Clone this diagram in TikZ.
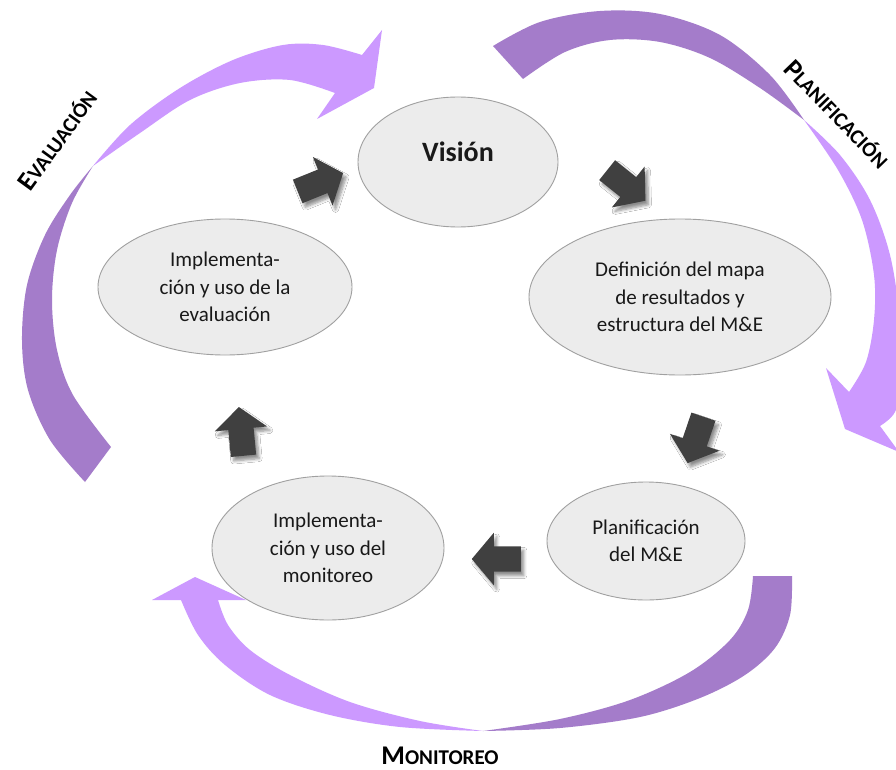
\documentclass[tikz,border=0pt]{standalone}
\usepackage{fontspec}
\setmainfont{Carlito}
\usetikzlibrary{shapes.geometric,shapes.arrows,shadows.blur}
\definecolor{pdark}{RGB}{164,124,202}
\definecolor{plight}{RGB}{204,153,255}
\definecolor{darrow}{RGB}{64,64,64}
\definecolor{efill}{RGB}{236,236,236}
\definecolor{eline}{RGB}{160,160,160}
\newcommand{\phasetxt}[2]{{\fontsize{27}{27}\selectfont #1}{\fontsize{21}{21}\selectfont #2}}
\tikzset{
  stage/.style={ellipse, draw=eline, line width=0.9pt, fill=efill, inner sep=0pt,
    align=center, text=black!90, font=\fontsize{21}{27.5}\selectfont},
  blockarr/.style={single arrow, fill=darrow, draw=none, minimum height=49pt,
    inner xsep=0pt, inner ysep=12.5pt, single arrow head extend=13.5pt,
    single arrow tip angle=100, anchor=tail,
    blur shadow={shadow xshift=3pt, shadow yshift=-4pt, shadow opacity=45,
      shadow blur steps=6, shadow blur radius=3pt}},
  phase/.style={font=\bfseries, inner sep=0pt, text=black},
  band/.style={smooth, tension=0.55}
}
\begin{document}
\begin{tikzpicture}[x=1pt, y=-1pt]
\useasboundingbox (0,0) rectangle (896,770);
\clip (0,0) rectangle (896,770);
\fill[white] (0,0) rectangle (896,770);

% EVALUACION curved arrow
\fill[pdark] plot[band] coordinates {(85,482) (50,440) (28,390) (22,340) (27,285) (45,235) (70,195) (93,166)}
  -- plot[band] coordinates {(93,166) (72,203) (57,250) (52,300) (57,350) (73,395) (111,447)} -- cycle;
\fill[plight] plot[band] coordinates {(93,166) (130,125) (180,88) (233,60) (283,45) (323,45) (362,55)}
  -- (382,30) -- (374,88) -- (317,119)
  -- plot[band] coordinates {(335,93) (290,80) (240,83) (190,100) (140,133) (93,166)} -- cycle;

% PLANIFICACION curved arrow
\fill[pdark] plot[band] coordinates {(493,46) (540,22) (600,11) (660,14) (720,35) (770,75) (804,120)}
  -- plot[band] coordinates {(804,120) (760,88) (710,58) (660,42) (610,40) (565,52) (523,79)} -- cycle;
\fill[plight] plot[band] coordinates {(804,120) (840,155) (870,200) (890,255) (900,320) (902,380) (895,412) (880,426)}
  -- (899,452) -- (845,429) -- (826,368)
  -- plot[band] coordinates {(849,392) (866,362) (874,320) (874,275) (862,220) (838,170) (804,120)} -- cycle;

% MONITOREO curved arrow
\fill[pdark] plot[band] coordinates {(792,576) (790,615) (775,648) (745,675) (700,698) (640,717) (560,728) (483,731)}
  -- plot[band] coordinates {(483,731) (560,719) (630,700) (690,672) (730,640) (748,610) (753,576)} -- cycle;
\fill[plight] plot[band] coordinates {(483,731) (400,727) (330,715) (270,695) (225,665) (198,635) (181,600)}
  -- (152,600) -- (195,577) -- (246,600)
  -- plot[band] coordinates {(218,600) (228,625) (250,650) (290,675) (350,702) (420,721) (483,731)} -- cycle;

% phase labels
\node[phase, rotate=54] (evallbl) at (57,140) {\phasetxt{E}{VALUACIÓN}};
\node[phase, rotate=-46] (planlbl) at (837,114) {\phasetxt{P}{LANIFICACIÓN}};
\node[phase] (monilbl) at (440,756) {\phasetxt{M}{ONITOREO}};

% stages
\node[stage, minimum width=200pt, minimum height=130pt] (vision) at (458,162) {};
\node[font=\bfseries\fontsize{28}{32}\selectfont, text=black!90] (visionlbl) at (458,152) {Visión};
\node[stage, minimum width=254pt, minimum height=136pt] (impeval) at (225,287) {Implementa-\\ción y uso de la\\evaluación};
\node[stage, minimum width=302pt, minimum height=156pt] (defin) at (680,297) {Definición del mapa\\de resultados y\\estructura del M\&E};
\node[stage, minimum width=198pt, minimum height=118pt] (planme) at (646,541) {Planificación\\del M\&E};
\node[stage, minimum width=232pt, minimum height=144pt] (impmon) at (328,548) {Implementa-\\ción y uso del\\monitoreo};

% block arrows
\node[blockarr, rotate=22] (a1) at (297.5,191.5) {};
\node[blockarr, rotate=-38.7] (a2) at (607,170) {};
\node[blockarr, rotate=-108.8] (a3) at (703.5,416.5) {};
\node[blockarr, rotate=180] (a4) at (521,559) {};
\node[blockarr, rotate=95.4] (a5) at (243.5,456) {};
\end{tikzpicture}
\end{document}
